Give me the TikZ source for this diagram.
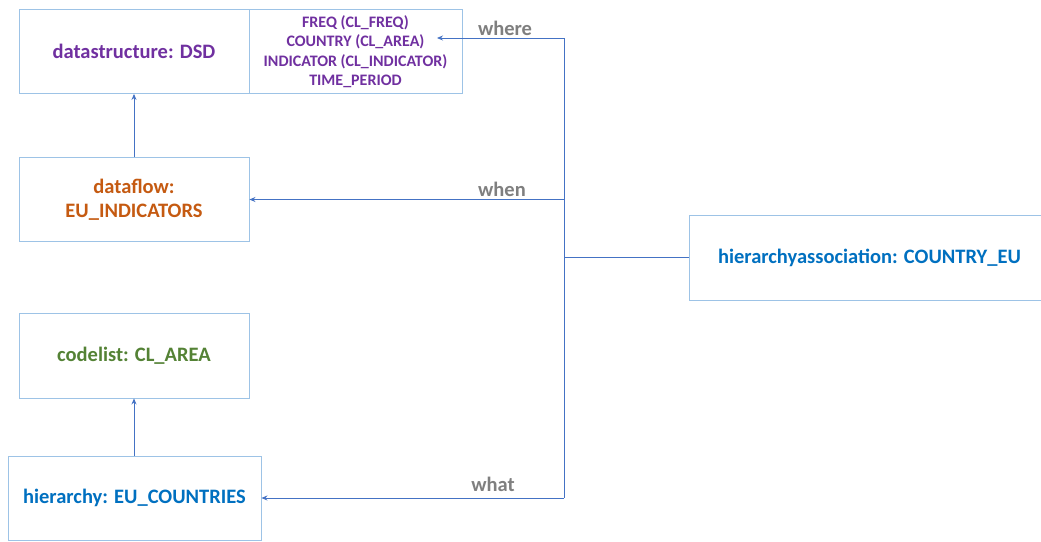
\documentclass[tikz,border=0pt]{standalone}
\usepackage{fontspec}
\setmainfont{Carlito}
\usetikzlibrary{arrows.meta}
\definecolor{boxline}{HTML}{9DC3E6}
\definecolor{conn}{HTML}{4472C4}
\definecolor{dsdpurple}{HTML}{7030A0}
\definecolor{floworange}{HTML}{C55A11}
\definecolor{clgreen}{HTML}{548235}
\definecolor{hblue}{HTML}{0070C0}
\definecolor{lblgrey}{HTML}{7F7F7F}
\tikzset{
  box/.style={draw=boxline, line width=0.9pt, rectangle, inner sep=0pt, align=center, font=\bfseries\fontsize{20.5}{24}\selectfont},
  conline/.style={draw=conn, line width=0.8pt},
  conarrow/.style={conline, -{Stealth[length=6pt,width=5pt]}},
  lbl/.style={text=lblgrey, font=\bfseries\fontsize{20.5}{24}\selectfont, inner sep=0pt}
}
\begin{document}
\begin{tikzpicture}[x=1pt,y=-1pt]
\useasboundingbox[fill=white] (0,0) rectangle (1041,541);
\node[box, text=dsdpurple, minimum width=230pt, minimum height=84pt] (dsd) at (134,51.5) {datastructure: DSD};
\node[box, text=dsdpurple, minimum width=213pt, minimum height=84pt, font=\bfseries\fontsize{16}{19.5}\selectfont] (attr) at (355.5,51.5) {FREQ (CL\_FREQ)\\COUNTRY (CL\_AREA)\\INDICATOR (CL\_INDICATOR)\\TIME\_PERIOD};
\node[box, text=floworange, minimum width=230pt, minimum height=84pt] (flow) at (134,199.5) {dataflow:\\EU\_INDICATORS};
\node[box, text=clgreen, minimum width=230pt, minimum height=85pt] (cl) at (134,355.5) {codelist: CL\_AREA};
\node[box, text=hblue, minimum width=253pt, minimum height=84pt] (hier) at (134.5,498) {hierarchy: EU\_COUNTRIES};
\node[box, text=hblue, minimum width=361pt, minimum height=85pt] (assoc) at (869.5,257.5) {hierarchyassociation: COUNTRY\_EU};
\coordinate (jtop) at (564,38);
\coordinate (jmid) at (564,257.5);
\coordinate (jwhen) at (564,199.5);
\coordinate (jbot) at (564,498);
\coordinate (attrtip) at (437,38);
\draw[conarrow] (flow.north) -- (dsd.south);
\draw[conarrow] (hier.north -| cl.south) -- (cl.south);
\draw[conline] (jtop) -- (jbot);
\draw[conline] (assoc.west) -- (jmid);
\draw[conarrow] (jtop) -- (attrtip);
\draw[conarrow] (jwhen) -- (flow.east);
\draw[conarrow] (jbot) -- (hier.east);
\node[lbl] (lwhere) at (505,28) {where};
\node[lbl] (lwhen) at (502,189) {when};
\node[lbl] (lwhat) at (493,484) {what};
\end{tikzpicture}
\end{document}
